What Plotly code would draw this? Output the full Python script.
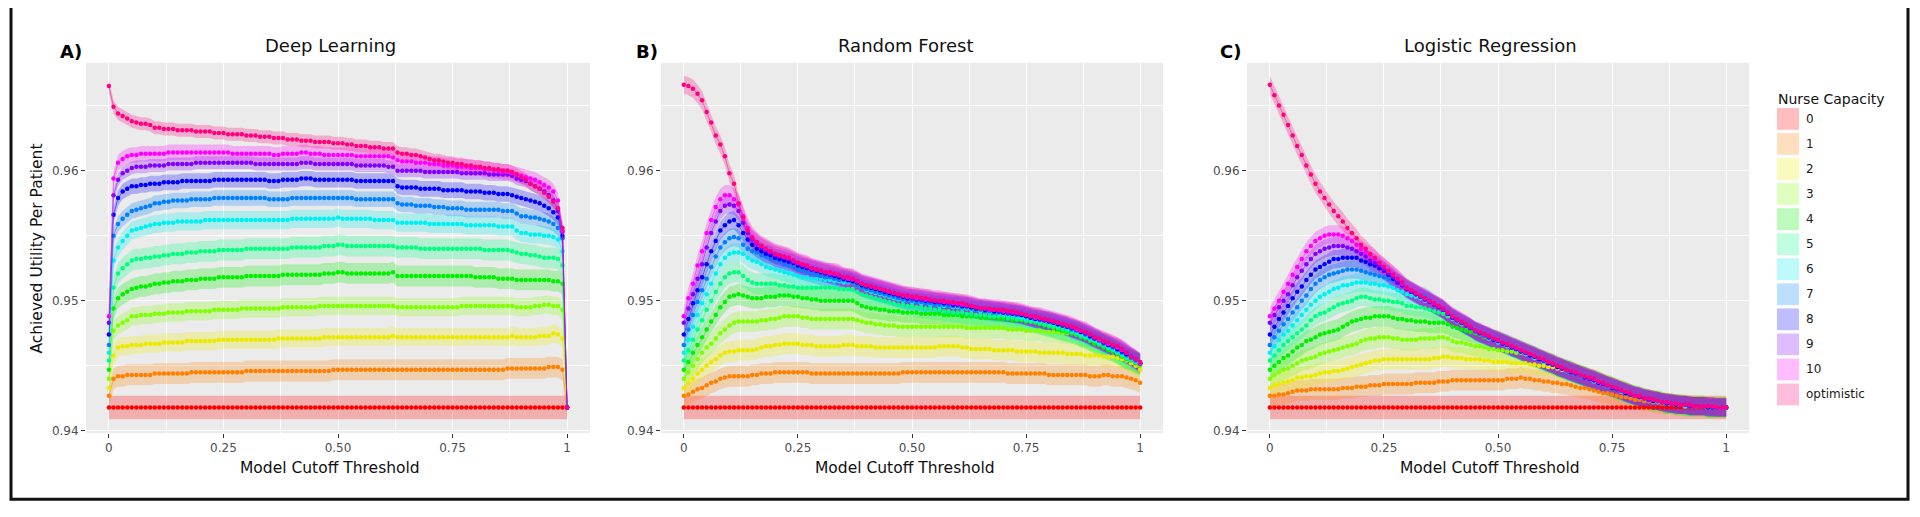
import plotly.graph_objects as go

# ---------------- data ----------------
thresholds = [round(i * 0.01, 2) for i in range(101)]
capacity_labels = ["0", "1", "2", "3", "4", "5", "6", "7", "8", "9", "10", "optimistic"]
model_titles = ["Deep Learning", "Random Forest", "Logistic Regression"]
panel_tags = ["A)", "B)", "C)"]
x_tick_vals = [0, 0.25, 0.5, 0.75, 1]
x_tick_text = ["0", "0.25", "0.50", "0.75", "1"]
y_tick_vals = [0.94, 0.95, 0.96]
y_tick_text = ["0.94", "0.95", "0.96"]

baseline_cap0 = [
    0.9418, 0.9418, 0.9418, 0.9418, 0.9418, 0.9418, 0.9418, 0.9418, 0.9418, 0.9418,
    0.9418, 0.9418, 0.9418, 0.9418, 0.9418, 0.9418, 0.9418, 0.9418, 0.9418, 0.9418,
    0.9418, 0.9418, 0.9418, 0.9418, 0.9418, 0.9418, 0.9418, 0.9418, 0.9418, 0.9418,
    0.9418, 0.9418, 0.9418, 0.9418, 0.9418, 0.9418, 0.9418, 0.9418, 0.9418, 0.9418,
    0.9418, 0.9418, 0.9418, 0.9418, 0.9418, 0.9418, 0.9418, 0.9418, 0.9418, 0.9418,
    0.9418, 0.9418, 0.9418, 0.9418, 0.9418, 0.9418, 0.9418, 0.9418, 0.9418, 0.9418,
    0.9418, 0.9418, 0.9418, 0.9418, 0.9418, 0.9418, 0.9418, 0.9418, 0.9418, 0.9418,
    0.9418, 0.9418, 0.9418, 0.9418, 0.9418, 0.9418, 0.9418, 0.9418, 0.9418, 0.9418,
    0.9418, 0.9418, 0.9418, 0.9418, 0.9418, 0.9418, 0.9418, 0.9418, 0.9418, 0.9418,
    0.9418, 0.9418, 0.9418, 0.9418, 0.9418, 0.9418, 0.9418, 0.9418, 0.9418, 0.9418,
    0.9418]

# ---- Deep Learning ----
dl_cap0 = baseline_cap0
dl_cap1 = [
    .9427, .9440, .9442, .9442, .9443, .9443, .9443, .9443, .9443, .9443,
    .9444, .9444, .9444, .9444, .9444, .9444, .9444, .9444, .9445, .9445,
    .9445, .9445, .9445, .9445, .9445, .9445, .9445, .9445, .9445, .9445,
    .9446, .9446, .9446, .9446, .9446, .9446, .9446, .9446, .9446, .9446,
    .9446, .9446, .9446, .9446, .9446, .9446, .9446, .9446, .9446, .9447,
    .9447, .9447, .9447, .9447, .9447, .9447, .9447, .9447, .9447, .9447,
    .9447, .9447, .9447, .9447, .9447, .9447, .9447, .9447, .9447, .9447,
    .9447, .9447, .9447, .9447, .9447, .9447, .9447, .9447, .9447, .9447,
    .9447, .9447, .9447, .9447, .9447, .9447, .9447, .9448, .9448, .9448,
    .9448, .9448, .9448, .9448, .9448, .9448, .9449, .9449, .9449, .9447,
    .9418]
dl_cap2 = [
    .9433, .9458, .9464, .9465, .9465, .9466, .9466, .9466, .9467, .9467,
    .9467, .9467, .9468, .9468, .9468, .9468, .9468, .9469, .9469, .9469,
    .9469, .9469, .9469, .9469, .9470, .9470, .9470, .9470, .9470, .9470,
    .9470, .9470, .9470, .9470, .9470, .9470, .9470, .9471, .9471, .9471,
    .9471, .9471, .9471, .9471, .9471, .9471, .9471, .9472, .9472, .9472,
    .9472, .9472, .9472, .9472, .9472, .9472, .9472, .9472, .9472, .9472,
    .9472, .9472, .9473, .9472, .9472, .9472, .9472, .9472, .9472, .9472,
    .9472, .9472, .9472, .9472, .9472, .9472, .9472, .9472, .9472, .9472,
    .9472, .9472, .9472, .9472, .9472, .9472, .9472, .9472, .9473, .9472,
    .9472, .9472, .9472, .9472, .9473, .9473, .9473, .9475, .9474, .9471,
    .9418]
dl_cap3 = [
    .9440, .9477, .9481, .9483, .9485, .9488, .9488, .9489, .9489, .9489,
    .9490, .9490, .9490, .9491, .9491, .9491, .9491, .9492, .9492, .9492,
    .9492, .9492, .9492, .9493, .9493, .9493, .9493, .9493, .9493, .9494,
    .9494, .9494, .9494, .9494, .9494, .9494, .9494, .9494, .9495, .9495,
    .9495, .9495, .9495, .9495, .9495, .9495, .9496, .9496, .9496, .9496,
    .9496, .9496, .9496, .9496, .9496, .9496, .9496, .9496, .9496, .9496,
    .9496, .9496, .9496, .9495, .9495, .9495, .9495, .9495, .9495, .9495,
    .9495, .9495, .9495, .9495, .9495, .9495, .9495, .9496, .9496, .9496,
    .9496, .9496, .9496, .9496, .9496, .9496, .9496, .9496, .9496, .9495,
    .9495, .9495, .9495, .9496, .9496, .9497, .9497, .9496, .9496, .9493,
    .9418]
dl_cap4 = [
    .9447, .9494, .9502, .9505, .9507, .9509, .9510, .9511, .9511, .9512,
    .9513, .9513, .9514, .9514, .9515, .9515, .9515, .9516, .9516, .9516,
    .9517, .9517, .9517, .9517, .9518, .9518, .9518, .9518, .9518, .9518,
    .9519, .9519, .9519, .9519, .9519, .9519, .9519, .9519, .9520, .9520,
    .9520, .9520, .9520, .9520, .9520, .9520, .9520, .9521, .9521, .9521,
    .9522, .9522, .9521, .9521, .9521, .9521, .9521, .9521, .9521, .9521,
    .9521, .9521, .9522, .9519, .9519, .9519, .9519, .9519, .9519, .9519,
    .9519, .9519, .9519, .9519, .9519, .9519, .9519, .9519, .9519, .9519,
    .9518, .9518, .9518, .9518, .9518, .9517, .9517, .9517, .9517, .9516,
    .9516, .9516, .9516, .9516, .9516, .9516, .9516, .9515, .9515, .9513,
    .9418]
dl_cap5 = [
    .9454, .9510, .9521, .9525, .9528, .9531, .9532, .9532, .9533, .9533,
    .9534, .9534, .9535, .9535, .9536, .9536, .9536, .9537, .9537, .9537,
    .9538, .9538, .9538, .9538, .9539, .9539, .9539, .9539, .9539, .9539,
    .9540, .9540, .9540, .9540, .9540, .9540, .9540, .9540, .9540, .9540,
    .9541, .9541, .9541, .9541, .9541, .9541, .9541, .9542, .9542, .9542,
    .9543, .9543, .9542, .9542, .9542, .9542, .9542, .9542, .9542, .9542,
    .9542, .9542, .9542, .9541, .9541, .9541, .9541, .9541, .9540, .9540,
    .9540, .9540, .9540, .9540, .9540, .9540, .9540, .9540, .9540, .9540,
    .9540, .9540, .9539, .9539, .9539, .9539, .9539, .9539, .9538, .9537,
    .9536, .9536, .9535, .9535, .9534, .9533, .9533, .9533, .9532, .9527,
    .9418]
dl_cap6 = [
    .9460, .9531, .9541, .9546, .9550, .9554, .9555, .9556, .9557, .9558,
    .9559, .9559, .9560, .9560, .9560, .9561, .9561, .9561, .9561, .9561,
    .9561, .9562, .9562, .9562, .9562, .9562, .9562, .9562, .9562, .9562,
    .9562, .9562, .9562, .9562, .9562, .9562, .9562, .9562, .9562, .9562,
    .9563, .9563, .9563, .9563, .9563, .9563, .9563, .9563, .9563, .9563,
    .9564, .9563, .9563, .9563, .9563, .9563, .9563, .9563, .9562, .9562,
    .9562, .9562, .9562, .9560, .9560, .9560, .9560, .9560, .9560, .9560,
    .9559, .9559, .9559, .9559, .9559, .9559, .9559, .9559, .9558, .9558,
    .9558, .9558, .9558, .9558, .9558, .9557, .9557, .9557, .9557, .9554,
    .9552, .9552, .9551, .9551, .9551, .9550, .9550, .9549, .9547, .9538,
    .9418]
dl_cap7 = [
    .9466, .9550, .9559, .9563, .9566, .9569, .9570, .9571, .9572, .9573,
    .9575, .9575, .9576, .9576, .9577, .9577, .9577, .9577, .9578, .9578,
    .9578, .9578, .9578, .9579, .9579, .9579, .9579, .9579, .9579, .9579,
    .9579, .9579, .9579, .9579, .9579, .9578, .9578, .9578, .9578, .9578,
    .9579, .9579, .9579, .9579, .9579, .9579, .9579, .9579, .9579, .9579,
    .9579, .9579, .9579, .9579, .9578, .9578, .9578, .9578, .9578, .9578,
    .9578, .9578, .9578, .9575, .9574, .9574, .9574, .9573, .9573, .9573,
    .9573, .9572, .9572, .9572, .9571, .9571, .9571, .9571, .9570, .9570,
    .9570, .9570, .9570, .9570, .9570, .9570, .9569, .9569, .9569, .9567,
    .9565, .9565, .9564, .9564, .9563, .9562, .9561, .9559, .9556, .9548,
    .9418]
dl_cap8 = [
    .9474, .9566, .9579, .9584, .9586, .9588, .9588, .9589, .9589, .9590,
    .9590, .9590, .9591, .9591, .9591, .9591, .9592, .9592, .9592, .9592,
    .9592, .9592, .9592, .9593, .9593, .9593, .9593, .9593, .9593, .9593,
    .9593, .9593, .9593, .9593, .9593, .9592, .9592, .9592, .9593, .9593,
    .9593, .9593, .9594, .9594, .9594, .9593, .9593, .9593, .9593, .9593,
    .9593, .9593, .9593, .9593, .9592, .9592, .9592, .9592, .9592, .9592,
    .9592, .9592, .9592, .9588, .9587, .9587, .9587, .9587, .9586, .9586,
    .9586, .9586, .9586, .9585, .9585, .9585, .9585, .9585, .9584, .9584,
    .9584, .9584, .9583, .9583, .9583, .9582, .9582, .9582, .9581, .9580,
    .9579, .9578, .9577, .9576, .9575, .9573, .9571, .9568, .9564, .9550,
    .9418]
dl_cap9 = [
    .9483, .9581, .9593, .9598, .9600, .9602, .9603, .9603, .9603, .9604,
    .9604, .9604, .9604, .9605, .9605, .9605, .9605, .9605, .9605, .9606,
    .9606, .9606, .9606, .9606, .9606, .9606, .9606, .9606, .9606, .9606,
    .9606, .9606, .9605, .9605, .9605, .9605, .9605, .9605, .9605, .9605,
    .9605, .9605, .9606, .9606, .9606, .9605, .9605, .9605, .9605, .9605,
    .9605, .9605, .9605, .9605, .9604, .9604, .9604, .9604, .9604, .9604,
    .9604, .9603, .9603, .9600, .9600, .9600, .9600, .9600, .9600, .9599,
    .9599, .9599, .9599, .9599, .9599, .9599, .9599, .9598, .9598, .9598,
    .9598, .9598, .9598, .9597, .9597, .9597, .9597, .9597, .9596, .9594,
    .9593, .9592, .9590, .9588, .9586, .9584, .9581, .9577, .9569, .9553,
    .9418]
dl_cap10 = [
    .9488, .9594, .9606, .9609, .9611, .9612, .9612, .9613, .9613, .9613,
    .9613, .9613, .9613, .9614, .9614, .9614, .9614, .9614, .9614, .9614,
    .9614, .9614, .9614, .9614, .9614, .9614, .9614, .9613, .9613, .9613,
    .9613, .9613, .9613, .9613, .9613, .9613, .9612, .9612, .9613, .9613,
    .9613, .9613, .9614, .9614, .9613, .9613, .9613, .9612, .9612, .9612,
    .9612, .9612, .9612, .9612, .9611, .9611, .9611, .9611, .9611, .9611,
    .9611, .9611, .9610, .9608, .9607, .9607, .9607, .9606, .9606, .9606,
    .9605, .9605, .9605, .9604, .9604, .9604, .9603, .9603, .9603, .9602,
    .9602, .9602, .9601, .9601, .9600, .9600, .9599, .9599, .9598, .9597,
    .9596, .9595, .9594, .9593, .9591, .9589, .9587, .9584, .9577, .9554,
    .9418]
dl_opt = [
    .9665, .9649, .9644, .9642, .9640, .9638, .9637, .9636, .9636, .9635,
    .9633, .9633, .9632, .9632, .9632, .9631, .9631, .9631, .9631, .9630,
    .9630, .9630, .9630, .9629, .9629, .9629, .9628, .9628, .9628, .9628,
    .9627, .9627, .9627, .9626, .9626, .9626, .9625, .9625, .9625, .9624,
    .9624, .9624, .9623, .9623, .9623, .9622, .9622, .9622, .9622, .9621,
    .9621, .9621, .9620, .9620, .9619, .9619, .9619, .9618, .9618, .9618,
    .9617, .9617, .9617, .9614, .9613, .9613, .9612, .9612, .9611, .9610,
    .9609, .9608, .9608, .9607, .9606, .9606, .9605, .9605, .9604, .9604,
    .9603, .9603, .9602, .9602, .9601, .9601, .9600, .9600, .9599, .9597,
    .9595, .9593, .9590, .9588, .9586, .9583, .9580, .9576, .9571, .9556,
    .9418]

# ---- Random Forest ----
rf_cap0 = baseline_cap0
rf_cap1 = [
    .9427, .9428, .9430, .9432, .9433, .9435, .9437, .9438, .9440, .9441,
    .9442, .9442, .9442, .9442, .9442, .9443, .9443, .9444, .9444, .9444,
    .9445, .9445, .9445, .9445, .9445, .9445, .9445, .9445, .9444, .9444,
    .9444, .9444, .9444, .9444, .9444, .9444, .9444, .9444, .9444, .9444,
    .9444, .9444, .9444, .9444, .9444, .9444, .9444, .9444, .9445, .9445,
    .9445, .9445, .9445, .9445, .9445, .9445, .9445, .9445, .9445, .9445,
    .9445, .9445, .9445, .9445, .9445, .9445, .9445, .9445, .9445, .9445,
    .9445, .9444, .9444, .9444, .9444, .9444, .9444, .9444, .9444, .9444,
    .9443, .9443, .9443, .9443, .9443, .9443, .9443, .9443, .9443, .9442,
    .9442, .9442, .9443, .9443, .9442, .9442, .9442, .9441, .9440, .9439,
    .9437]
rf_cap2 = [
    .9433, .9437, .9440, .9444, .9447, .9450, .9453, .9455, .9458, .9460,
    .9461, .9461, .9462, .9462, .9462, .9462, .9463, .9464, .9465, .9465,
    .9466, .9466, .9467, .9467, .9467, .9467, .9466, .9466, .9466, .9465,
    .9465, .9465, .9465, .9465, .9465, .9466, .9466, .9466, .9465, .9465,
    .9465, .9465, .9464, .9464, .9464, .9464, .9464, .9464, .9464, .9464,
    .9464, .9464, .9464, .9464, .9464, .9464, .9465, .9465, .9465, .9465,
    .9465, .9464, .9464, .9463, .9463, .9463, .9463, .9463, .9462, .9462,
    .9462, .9462, .9462, .9461, .9461, .9461, .9461, .9461, .9460, .9460,
    .9460, .9460, .9460, .9460, .9459, .9459, .9459, .9459, .9458, .9458,
    .9458, .9458, .9457, .9457, .9457, .9456, .9455, .9454, .9452, .9450,
    .9447]
rf_cap3 = [
    .9440, .9445, .9450, .9455, .9460, .9464, .9467, .9471, .9475, .9478,
    .9481, .9483, .9484, .9484, .9484, .9484, .9484, .9485, .9485, .9486,
    .9486, .9487, .9488, .9488, .9488, .9488, .9487, .9487, .9486, .9486,
    .9486, .9486, .9486, .9486, .9486, .9486, .9486, .9486, .9485, .9484,
    .9483, .9483, .9482, .9482, .9481, .9481, .9481, .9480, .9480, .9480,
    .9480, .9480, .9480, .9480, .9480, .9480, .9480, .9480, .9480, .9480,
    .9480, .9480, .9479, .9479, .9479, .9479, .9479, .9479, .9479, .9479,
    .9479, .9478, .9478, .9478, .9478, .9477, .9477, .9477, .9477, .9476,
    .9476, .9476, .9476, .9475, .9475, .9475, .9474, .9473, .9472, .9470,
    .9468, .9467, .9465, .9464, .9462, .9460, .9458, .9456, .9454, .9452,
    .9450]
rf_cap4 = [
    .9447, .9453, .9460, .9466, .9472, .9478, .9484, .9489, .9495, .9499,
    .9503, .9504, .9505, .9504, .9503, .9502, .9502, .9502, .9503, .9503,
    .9503, .9504, .9504, .9504, .9503, .9503, .9502, .9502, .9501, .9501,
    .9500, .9500, .9500, .9500, .9500, .9500, .9500, .9500, .9498, .9496,
    .9495, .9494, .9494, .9493, .9493, .9492, .9492, .9492, .9491, .9491,
    .9491, .9491, .9490, .9490, .9490, .9490, .9490, .9489, .9489, .9489,
    .9489, .9488, .9488, .9488, .9488, .9487, .9487, .9487, .9487, .9486,
    .9486, .9486, .9485, .9485, .9485, .9484, .9484, .9483, .9482, .9481,
    .9480, .9479, .9478, .9477, .9476, .9475, .9474, .9472, .9471, .9469,
    .9467, .9466, .9464, .9462, .9461, .9459, .9457, .9455, .9454, .9452,
    .9451]
rf_cap5 = [
    .9454, .9462, .9470, .9478, .9485, .9493, .9500, .9507, .9513, .9518,
    .9521, .9522, .9522, .9519, .9516, .9514, .9513, .9513, .9513, .9513,
    .9513, .9512, .9512, .9511, .9511, .9510, .9510, .9510, .9510, .9510,
    .9510, .9510, .9510, .9510, .9509, .9509, .9509, .9509, .9507, .9505,
    .9504, .9503, .9502, .9501, .9500, .9499, .9498, .9497, .9497, .9496,
    .9496, .9495, .9495, .9494, .9494, .9493, .9493, .9492, .9492, .9491,
    .9491, .9491, .9490, .9490, .9489, .9489, .9489, .9488, .9488, .9488,
    .9488, .9487, .9487, .9486, .9486, .9485, .9484, .9484, .9483, .9482,
    .9481, .9480, .9479, .9478, .9477, .9476, .9475, .9473, .9472, .9470,
    .9469, .9467, .9466, .9464, .9462, .9460, .9458, .9456, .9455, .9453,
    .9452]
rf_cap6 = [
    .9460, .9470, .9480, .9489, .9498, .9505, .9513, .9521, .9528, .9533,
    .9536, .9537, .9537, .9536, .9533, .9531, .9530, .9528, .9526, .9525,
    .9524, .9523, .9522, .9521, .9520, .9519, .9518, .9518, .9517, .9517,
    .9517, .9516, .9516, .9515, .9515, .9514, .9514, .9514, .9512, .9510,
    .9508, .9507, .9506, .9505, .9504, .9503, .9502, .9501, .9500, .9500,
    .9499, .9499, .9498, .9498, .9497, .9497, .9496, .9496, .9496, .9495,
    .9495, .9494, .9494, .9493, .9493, .9492, .9492, .9491, .9491, .9490,
    .9490, .9489, .9489, .9488, .9487, .9486, .9486, .9485, .9484, .9484,
    .9483, .9482, .9481, .9480, .9479, .9477, .9476, .9474, .9473, .9471,
    .9470, .9468, .9466, .9464, .9463, .9461, .9459, .9457, .9455, .9453,
    .9452]
rf_cap7 = [
    .9466, .9478, .9489, .9499, .9508, .9517, .9526, .9534, .9541, .9545,
    .9548, .9549, .9548, .9543, .9540, .9538, .9537, .9535, .9534, .9532,
    .9531, .9530, .9528, .9527, .9526, .9524, .9523, .9522, .9521, .9520,
    .9519, .9518, .9518, .9517, .9516, .9516, .9515, .9514, .9512, .9510,
    .9509, .9508, .9507, .9506, .9505, .9504, .9503, .9502, .9501, .9500,
    .9500, .9499, .9499, .9498, .9498, .9497, .9497, .9497, .9496, .9496,
    .9496, .9495, .9495, .9494, .9493, .9493, .9492, .9492, .9491, .9491,
    .9491, .9490, .9490, .9489, .9489, .9488, .9487, .9486, .9485, .9485,
    .9484, .9483, .9482, .9481, .9480, .9478, .9477, .9476, .9474, .9472,
    .9471, .9469, .9467, .9466, .9464, .9462, .9460, .9458, .9456, .9454,
    .9452]
rf_cap8 = [
    .9474, .9486, .9498, .9508, .9518, .9528, .9538, .9546, .9554, .9558,
    .9561, .9562, .9558, .9552, .9547, .9543, .9540, .9538, .9536, .9535,
    .9533, .9532, .9531, .9530, .9529, .9527, .9526, .9525, .9524, .9523,
    .9522, .9521, .9520, .9519, .9518, .9517, .9516, .9515, .9514, .9512,
    .9511, .9510, .9509, .9508, .9507, .9506, .9505, .9504, .9503, .9502,
    .9502, .9501, .9501, .9500, .9500, .9499, .9499, .9498, .9498, .9497,
    .9497, .9496, .9496, .9495, .9494, .9494, .9493, .9493, .9492, .9492,
    .9491, .9491, .9490, .9490, .9489, .9488, .9487, .9486, .9486, .9485,
    .9484, .9483, .9482, .9481, .9480, .9479, .9478, .9476, .9475, .9473,
    .9471, .9470, .9468, .9466, .9465, .9463, .9461, .9459, .9457, .9455,
    .9452]
rf_cap9 = [
    .9483, .9494, .9505, .9517, .9528, .9541, .9552, .9561, .9569, .9573,
    .9574, .9573, .9569, .9560, .9552, .9547, .9544, .9541, .9539, .9537,
    .9535, .9534, .9533, .9532, .9530, .9529, .9527, .9526, .9525, .9524,
    .9523, .9522, .9521, .9520, .9519, .9518, .9517, .9516, .9515, .9513,
    .9512, .9511, .9510, .9509, .9508, .9507, .9506, .9505, .9504, .9503,
    .9502, .9502, .9501, .9501, .9500, .9500, .9499, .9499, .9498, .9498,
    .9497, .9497, .9496, .9496, .9495, .9494, .9494, .9493, .9493, .9492,
    .9492, .9491, .9491, .9490, .9490, .9489, .9488, .9487, .9486, .9485,
    .9485, .9484, .9483, .9482, .9481, .9479, .9478, .9477, .9475, .9474,
    .9472, .9470, .9468, .9467, .9465, .9464, .9462, .9460, .9457, .9455,
    .9452]
rf_cap10 = [
    .9488, .9502, .9513, .9527, .9538, .9552, .9562, .9572, .9578, .9581,
    .9581, .9578, .9574, .9565, .9556, .9549, .9545, .9542, .9540, .9538,
    .9536, .9535, .9534, .9533, .9531, .9529, .9528, .9527, .9525, .9524,
    .9523, .9522, .9521, .9521, .9520, .9518, .9517, .9517, .9515, .9513,
    .9512, .9511, .9510, .9509, .9508, .9507, .9506, .9505, .9504, .9503,
    .9503, .9502, .9502, .9501, .9501, .9500, .9500, .9499, .9499, .9498,
    .9498, .9497, .9497, .9496, .9495, .9494, .9494, .9493, .9493, .9493,
    .9492, .9492, .9491, .9491, .9490, .9489, .9488, .9487, .9487, .9486,
    .9485, .9484, .9483, .9482, .9481, .9480, .9478, .9477, .9476, .9474,
    .9472, .9470, .9469, .9467, .9466, .9464, .9462, .9460, .9457, .9455,
    .9452]
rf_opt = [
    .9666, .9665, .9663, .9659, .9654, .9645, .9637, .9627, .9620, .9611,
    .9598, .9590, .9575, .9564, .9554, .9548, .9545, .9542, .9540, .9538,
    .9536, .9535, .9534, .9533, .9531, .9529, .9528, .9527, .9525, .9524,
    .9523, .9522, .9522, .9521, .9520, .9518, .9518, .9517, .9515, .9513,
    .9512, .9511, .9510, .9509, .9508, .9507, .9506, .9505, .9504, .9504,
    .9503, .9503, .9502, .9502, .9501, .9500, .9500, .9500, .9499, .9499,
    .9498, .9498, .9497, .9496, .9495, .9494, .9494, .9494, .9493, .9493,
    .9493, .9492, .9492, .9491, .9490, .9489, .9488, .9488, .9487, .9486,
    .9485, .9484, .9483, .9482, .9481, .9480, .9479, .9477, .9476, .9474,
    .9472, .9471, .9469, .9468, .9466, .9465, .9463, .9460, .9457, .9455,
    .9453]

# ---- Logistic Regression ----
lr_cap0 = baseline_cap0
lr_cap1 = [
    .9427, .9427, .9428, .9428, .9429, .9430, .9431, .9431, .9431, .9432,
    .9432, .9432, .9432, .9432, .9432, .9432, .9433, .9433, .9433, .9434,
    .9434, .9434, .9435, .9435, .9435, .9436, .9436, .9436, .9436, .9436,
    .9436, .9436, .9437, .9437, .9437, .9437, .9437, .9438, .9438, .9438,
    .9439, .9439, .9439, .9439, .9439, .9439, .9439, .9439, .9439, .9439,
    .9439, .9439, .9440, .9440, .9440, .9441, .9440, .9440, .9439, .9439,
    .9438, .9438, .9437, .9437, .9436, .9436, .9435, .9434, .9433, .9433,
    .9432, .9431, .9430, .9429, .9429, .9428, .9427, .9426, .9426, .9425,
    .9424, .9424, .9423, .9423, .9422, .9422, .9421, .9421, .9421, .9420,
    .9420, .9420, .9419, .9419, .9419, .9419, .9418, .9418, .9418, .9418,
    .9418]
lr_cap2 = [
    .9433, .9435, .9436, .9437, .9438, .9439, .9441, .9441, .9442, .9442,
    .9443, .9444, .9445, .9445, .9446, .9446, .9447, .9448, .9449, .9450,
    .9451, .9452, .9453, .9454, .9454, .9455, .9455, .9455, .9455, .9455,
    .9455, .9455, .9455, .9455, .9455, .9455, .9456, .9456, .9457, .9457,
    .9456, .9456, .9456, .9455, .9455, .9455, .9455, .9454, .9454, .9453,
    .9453, .9453, .9453, .9452, .9452, .9452, .9452, .9451, .9451, .9450,
    .9450, .9449, .9449, .9448, .9447, .9446, .9445, .9444, .9443, .9441,
    .9440, .9439, .9438, .9436, .9435, .9433, .9432, .9431, .9430, .9428,
    .9427, .9426, .9425, .9424, .9423, .9423, .9422, .9421, .9421, .9420,
    .9420, .9419, .9419, .9419, .9419, .9419, .9418, .9418, .9418, .9418,
    .9418]
lr_cap3 = [
    .9440, .9443, .9445, .9447, .9448, .9450, .9452, .9454, .9455, .9456,
    .9457, .9459, .9460, .9461, .9462, .9463, .9464, .9465, .9466, .9467,
    .9469, .9470, .9471, .9471, .9472, .9472, .9472, .9471, .9471, .9470,
    .9470, .9470, .9470, .9471, .9471, .9471, .9471, .9472, .9472, .9471,
    .9469, .9468, .9468, .9467, .9466, .9465, .9465, .9464, .9463, .9463,
    .9462, .9462, .9461, .9461, .9460, .9460, .9459, .9458, .9456, .9455,
    .9453, .9452, .9451, .9449, .9448, .9447, .9446, .9444, .9443, .9442,
    .9440, .9439, .9438, .9436, .9435, .9434, .9432, .9431, .9430, .9428,
    .9427, .9426, .9425, .9424, .9423, .9423, .9422, .9421, .9421, .9420,
    .9420, .9419, .9419, .9419, .9419, .9419, .9418, .9418, .9418, .9418,
    .9418]
lr_cap4 = [
    .9447, .9450, .9453, .9456, .9458, .9461, .9464, .9466, .9469, .9470,
    .9472, .9474, .9475, .9476, .9477, .9478, .9480, .9482, .9484, .9485,
    .9486, .9487, .9487, .9488, .9488, .9488, .9488, .9487, .9486, .9486,
    .9485, .9485, .9484, .9484, .9484, .9483, .9483, .9483, .9483, .9482,
    .9480, .9479, .9478, .9477, .9476, .9475, .9474, .9472, .9471, .9470,
    .9469, .9468, .9466, .9465, .9463, .9462, .9460, .9459, .9457, .9456,
    .9454, .9453, .9451, .9450, .9448, .9447, .9446, .9444, .9443, .9442,
    .9440, .9439, .9438, .9436, .9435, .9434, .9432, .9431, .9430, .9428,
    .9427, .9426, .9425, .9424, .9423, .9423, .9422, .9421, .9421, .9420,
    .9420, .9419, .9419, .9419, .9419, .9419, .9418, .9418, .9418, .9418,
    .9418]
lr_cap5 = [
    .9454, .9458, .9462, .9466, .9469, .9472, .9475, .9478, .9481, .9485,
    .9488, .9490, .9491, .9493, .9495, .9497, .9498, .9499, .9500, .9502,
    .9503, .9503, .9502, .9501, .9501, .9500, .9500, .9499, .9499, .9498,
    .9496, .9496, .9495, .9495, .9494, .9493, .9492, .9491, .9490, .9488,
    .9486, .9484, .9482, .9480, .9479, .9477, .9475, .9474, .9472, .9471,
    .9470, .9468, .9467, .9465, .9464, .9462, .9461, .9459, .9458, .9456,
    .9455, .9453, .9452, .9450, .9449, .9447, .9446, .9444, .9443, .9442,
    .9440, .9439, .9438, .9436, .9435, .9434, .9432, .9431, .9430, .9428,
    .9427, .9426, .9425, .9424, .9423, .9423, .9422, .9421, .9421, .9420,
    .9420, .9419, .9419, .9419, .9419, .9419, .9418, .9418, .9418, .9418,
    .9418]
lr_cap6 = [
    .9460, .9465, .9470, .9474, .9477, .9481, .9485, .9489, .9493, .9497,
    .9500, .9503, .9505, .9507, .9509, .9510, .9512, .9512, .9513, .9514,
    .9514, .9514, .9513, .9513, .9512, .9512, .9511, .9510, .9508, .9507,
    .9505, .9504, .9503, .9502, .9500, .9499, .9497, .9495, .9493, .9490,
    .9487, .9485, .9483, .9481, .9479, .9476, .9475, .9473, .9471, .9470,
    .9468, .9467, .9465, .9464, .9462, .9461, .9459, .9458, .9456, .9455,
    .9453, .9452, .9451, .9449, .9448, .9446, .9445, .9444, .9442, .9441,
    .9440, .9438, .9437, .9436, .9434, .9433, .9432, .9430, .9429, .9428,
    .9427, .9426, .9425, .9424, .9423, .9422, .9422, .9421, .9421, .9420,
    .9420, .9419, .9419, .9419, .9419, .9419, .9418, .9418, .9418, .9418,
    .9418]
lr_cap7 = [
    .9466, .9472, .9477, .9482, .9486, .9491, .9495, .9500, .9504, .9509,
    .9513, .9516, .9518, .9520, .9521, .9522, .9523, .9524, .9524, .9524,
    .9523, .9522, .9521, .9520, .9519, .9518, .9517, .9516, .9514, .9512,
    .9510, .9508, .9506, .9504, .9503, .9501, .9498, .9496, .9494, .9490,
    .9487, .9485, .9483, .9481, .9479, .9476, .9475, .9473, .9472, .9470,
    .9469, .9467, .9466, .9464, .9463, .9461, .9460, .9458, .9457, .9455,
    .9454, .9452, .9451, .9449, .9448, .9446, .9445, .9444, .9442, .9441,
    .9440, .9439, .9437, .9436, .9434, .9433, .9432, .9431, .9429, .9428,
    .9427, .9426, .9425, .9424, .9423, .9423, .9422, .9421, .9421, .9420,
    .9420, .9420, .9419, .9419, .9419, .9419, .9418, .9418, .9418, .9418,
    .9418]
lr_cap8 = [
    .9474, .9480, .9486, .9491, .9496, .9502, .9507, .9511, .9516, .9520,
    .9524, .9526, .9528, .9530, .9532, .9532, .9533, .9533, .9533, .9533,
    .9531, .9530, .9528, .9527, .9525, .9523, .9520, .9517, .9514, .9512,
    .9509, .9507, .9505, .9503, .9501, .9499, .9497, .9495, .9493, .9490,
    .9487, .9485, .9483, .9481, .9479, .9477, .9475, .9474, .9472, .9470,
    .9469, .9467, .9466, .9464, .9463, .9461, .9460, .9458, .9457, .9455,
    .9454, .9452, .9451, .9449, .9448, .9447, .9445, .9444, .9443, .9441,
    .9440, .9439, .9437, .9436, .9435, .9433, .9432, .9431, .9429, .9428,
    .9427, .9426, .9425, .9424, .9423, .9423, .9422, .9421, .9421, .9420,
    .9420, .9420, .9419, .9419, .9419, .9419, .9418, .9418, .9418, .9418,
    .9418]
lr_cap9 = [
    .9483, .9489, .9495, .9500, .9505, .9512, .9518, .9523, .9528, .9532,
    .9536, .9538, .9540, .9541, .9542, .9542, .9542, .9541, .9540, .9538,
    .9536, .9534, .9531, .9529, .9527, .9524, .9521, .9518, .9515, .9512,
    .9509, .9507, .9505, .9503, .9501, .9499, .9497, .9495, .9493, .9490,
    .9487, .9485, .9483, .9481, .9479, .9477, .9475, .9474, .9472, .9471,
    .9469, .9468, .9466, .9465, .9463, .9462, .9460, .9459, .9457, .9456,
    .9454, .9453, .9451, .9450, .9448, .9447, .9446, .9444, .9443, .9442,
    .9440, .9439, .9438, .9436, .9435, .9434, .9432, .9431, .9430, .9428,
    .9427, .9426, .9425, .9424, .9424, .9423, .9422, .9422, .9421, .9421,
    .9420, .9420, .9419, .9419, .9419, .9419, .9419, .9418, .9418, .9418,
    .9418]
lr_cap10 = [
    .9488, .9494, .9500, .9507, .9513, .9520, .9526, .9532, .9538, .9542,
    .9546, .9548, .9550, .9551, .9551, .9551, .9550, .9548, .9546, .9543,
    .9540, .9537, .9535, .9532, .9529, .9526, .9523, .9520, .9517, .9513,
    .9510, .9508, .9506, .9504, .9502, .9500, .9498, .9496, .9494, .9491,
    .9488, .9486, .9484, .9482, .9480, .9477, .9476, .9474, .9473, .9471,
    .9470, .9468, .9467, .9465, .9464, .9462, .9461, .9459, .9458, .9456,
    .9455, .9453, .9452, .9450, .9449, .9447, .9446, .9445, .9443, .9442,
    .9441, .9440, .9438, .9437, .9435, .9434, .9433, .9431, .9430, .9429,
    .9427, .9427, .9425, .9425, .9424, .9423, .9422, .9422, .9421, .9421,
    .9420, .9420, .9420, .9419, .9419, .9419, .9419, .9419, .9418, .9418,
    .9418]
lr_opt = [
    .9666, .9658, .9650, .9643, .9635, .9627, .9619, .9612, .9604, .9597,
    .9590, .9584, .9579, .9574, .9569, .9565, .9561, .9556, .9552, .9548,
    .9543, .9540, .9536, .9533, .9529, .9526, .9523, .9520, .9517, .9514,
    .9510, .9508, .9506, .9504, .9502, .9500, .9498, .9496, .9494, .9491,
    .9488, .9486, .9484, .9482, .9480, .9477, .9476, .9474, .9473, .9471,
    .9470, .9468, .9467, .9465, .9464, .9462, .9461, .9459, .9458, .9456,
    .9455, .9453, .9452, .9450, .9449, .9447, .9446, .9445, .9443, .9442,
    .9441, .9440, .9438, .9437, .9435, .9434, .9433, .9431, .9430, .9429,
    .9427, .9427, .9425, .9425, .9424, .9423, .9422, .9422, .9421, .9421,
    .9420, .9420, .9420, .9419, .9419, .9419, .9419, .9419, .9418, .9418,
    .9418]

# confidence-band half widths per capacity level (0..10, optimistic)
dl_halfwidth = [0.0009, 0.0008, 0.0007, 0.0007, 0.0008, 0.0008, 0.0007, 0.0006, 0.0006, 0.0005, 0.0006, 0.0005]
rf_halfwidth = [0.0009, 0.0008, 0.0008, 0.0008, 0.0008, 0.0008, 0.0007, 0.0007, 0.0007, 0.0007, 0.0008, 0.0007]
lr_halfwidth = [0.0009, 0.0008, 0.0008, 0.0008, 0.0008, 0.0007, 0.0007, 0.0007, 0.0007, 0.0007, 0.0007, 0.0007]

# ---------------- styles ----------------
series_colors = ["#FF0000", "#FF8000", "#EAEA00", "#80FF00", "#00F000", "#00FF80",
                 "#00F0F0", "#0080FF", "#0000FF", "#8000FF", "#FF00FF", "#FF0080"]
FONT = "DejaVu Sans"
OFF = 8                      # default page margin of the html body
W, H = 1920 - OFF, 517 - OFF  # figure fills the rest of the window


def rgba(hex_color, a):
    h = hex_color.lstrip("#")
    return "rgba(%d,%d,%d,%.3f)" % (int(h[0:2], 16), int(h[2:4], 16), int(h[4:6], 16), a)


def px(x):
    return (x - OFF) / W


def py(y):
    return 1 - (y - OFF) / H


panels = [
    ([dl_cap0, dl_cap1, dl_cap2, dl_cap3, dl_cap4, dl_cap5, dl_cap6, dl_cap7, dl_cap8, dl_cap9, dl_cap10, dl_opt], dl_halfwidth),
    ([rf_cap0, rf_cap1, rf_cap2, rf_cap3, rf_cap4, rf_cap5, rf_cap6, rf_cap7, rf_cap8, rf_cap9, rf_cap10, rf_opt], rf_halfwidth),
    ([lr_cap0, lr_cap1, lr_cap2, lr_cap3, lr_cap4, lr_cap5, lr_cap6, lr_cap7, lr_cap8, lr_cap9, lr_cap10, lr_opt], lr_halfwidth),
]

fig = go.Figure()

for p, (series_list, hws) in enumerate(panels):
    xa = "x" if p == 0 else "x%d" % (p + 1)
    ya = "y" if p == 0 else "y%d" % (p + 1)
    for k, ys in enumerate(series_list):
        up = [v + hws[k] for v in ys]
        lo = [v - hws[k] for v in ys]
        fig.add_trace(go.Scatter(
            x=thresholds + thresholds[::-1], y=up + lo[::-1],
            fill="toself", fillcolor=rgba(series_colors[k], 0.26),
            line=dict(width=0), mode="lines", hoverinfo="skip",
            showlegend=False, xaxis=xa, yaxis=ya))
    for k, ys in enumerate(series_list):
        fig.add_trace(go.Scatter(
            x=thresholds, y=ys, mode="lines+markers",
            line=dict(color=series_colors[k], width=0.5),
            marker=dict(color=series_colors[k], size=4.5, line=dict(width=0)),
            name=capacity_labels[k], showlegend=False, xaxis=xa, yaxis=ya))

plot_left = [86, 661, 1247]
plot_right = [590, 1163, 1749]
plot_top, plot_bottom = 63.3, 437.3

layout = dict(
    width=W, height=H,
    margin=dict(l=0, r=0, t=0, b=0, pad=0),
    paper_bgcolor="white", plot_bgcolor="#EBEBEB",
    font=dict(family=FONT, color="#000000"),
    showlegend=False,
)

for p in range(3):
    xk = "xaxis" if p == 0 else "xaxis%d" % (p + 1)
    yk = "yaxis" if p == 0 else "yaxis%d" % (p + 1)
    xa = "x" if p == 0 else "x%d" % (p + 1)
    ya = "y" if p == 0 else "y%d" % (p + 1)
    layout[xk] = dict(
        domain=[px(plot_left[p]), px(plot_right[p])], anchor=ya, range=[-0.05, 1.05],
        tickvals=x_tick_vals, ticktext=x_tick_text,
        ticks="outside", ticklen=4, tickwidth=1, tickcolor="#333333",
        tickfont=dict(family=FONT, size=12, color="#4D4D4D"),
        showgrid=True, gridcolor="white", gridwidth=1.1,
        minor=dict(tickvals=[0.125, 0.375, 0.625, 0.875], showgrid=True,
                   gridcolor="white", gridwidth=0.55, ticks=""),
        zeroline=False, showline=False, fixedrange=True)
    layout[yk] = dict(
        domain=[py(plot_bottom), py(plot_top)], anchor=xa, range=[0.93983, 0.96829],
        tickvals=y_tick_vals, ticktext=y_tick_text,
        ticks="outside", ticklen=4, tickwidth=1, tickcolor="#333333",
        tickfont=dict(family=FONT, size=12, color="#4D4D4D"),
        showgrid=True, gridcolor="white", gridwidth=1.1,
        minor=dict(tickvals=[0.945, 0.955, 0.965], showgrid=True,
                   gridcolor="white", gridwidth=0.55, ticks=""),
        zeroline=False, showline=False, fixedrange=True)

annotations = []
title_centers = [330, 905, 1490]
tag_right = [84, 660, 1243]
for p in range(3):
    annotations.append(dict(text=model_titles[p], x=px(title_centers[p]), y=py(46),
                            xref="paper", yref="paper", xanchor="center", yanchor="middle",
                            showarrow=False, font=dict(family=FONT, size=18, color="#111111")))
    annotations.append(dict(text="Model Cutoff Threshold", x=px(title_centers[p]), y=py(473),
                            xref="paper", yref="paper", xanchor="center", yanchor="middle",
                            showarrow=False, font=dict(family=FONT, size=15.5, color="#111111")))
    annotations.append(dict(text="<b>%s</b>" % panel_tags[p], x=px(tag_right[p]), y=py(52),
                            xref="paper", yref="paper", xanchor="right", yanchor="middle",
                            showarrow=False, font=dict(family=FONT, size=18, color="#000000")))
annotations.append(dict(text="Achieved Utility Per Patient", x=px(37), y=py(251),
                        xref="paper", yref="paper", xanchor="center", yanchor="middle",
                        textangle=-90, showarrow=False,
                        font=dict(family=FONT, size=15.5, color="#111111")))

# legend (drawn ggplot style)
shapes = []
annotations.append(dict(text="Nurse Capacity", x=px(1776), y=py(100), xref="paper", yref="paper",
                        xanchor="left", yanchor="middle", showarrow=False,
                        font=dict(family=FONT, size=14, color="#111111")))
for k, lab in enumerate(capacity_labels):
    top = 109 + 25.3 * k
    shapes.append(dict(type="rect", xref="paper", yref="paper",
                       x0=px(1777), x1=px(1799), y0=py(top + 22), y1=py(top),
                       fillcolor=rgba(series_colors[k], 0.26), line=dict(width=0), layer="above"))
    annotations.append(dict(text=lab, x=px(1804), y=py(top + 11), xref="paper", yref="paper",
                            xanchor="left", yanchor="middle", showarrow=False,
                            font=dict(family=FONT, size=12, color="#1A1A1A")))

# outer frame
shapes.append(dict(type="rect", xref="paper", yref="paper",
                   x0=px(11), x1=px(1908), y0=py(504), y1=py(6),
                   line=dict(color="#111111", width=3), fillcolor="rgba(0,0,0,0)", layer="above"))

layout["annotations"] = annotations
layout["shapes"] = shapes
fig.update_layout(**layout)

fig.write_html("out.html")
